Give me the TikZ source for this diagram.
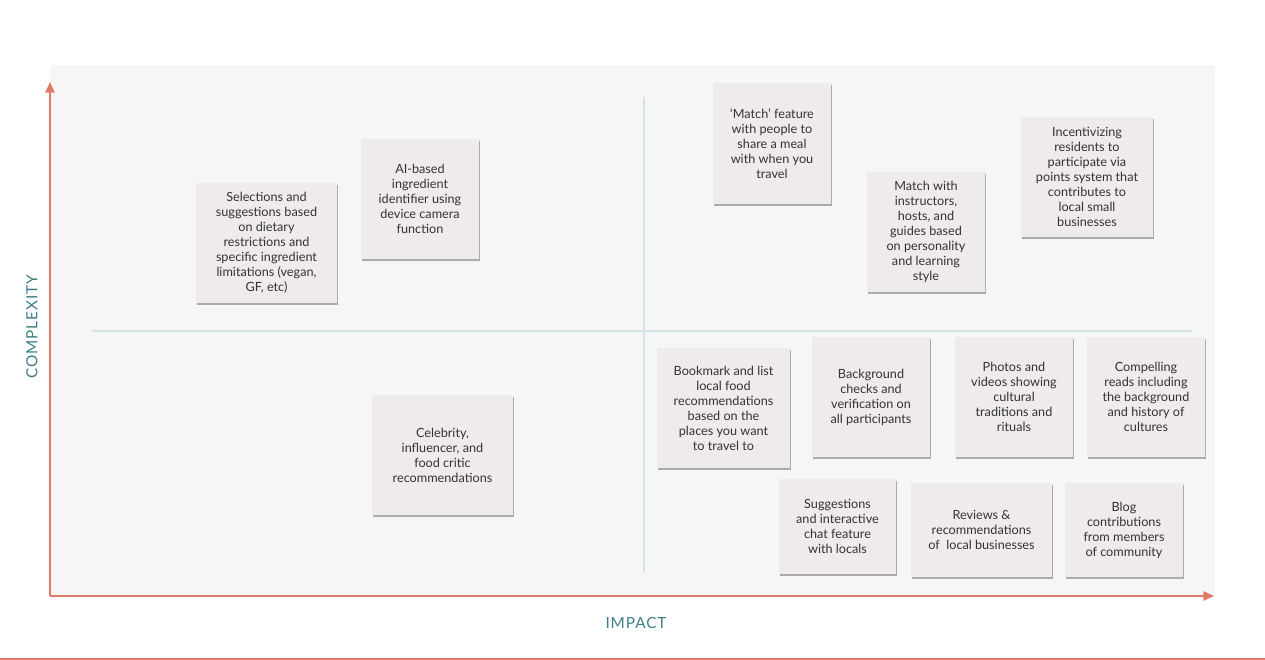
\documentclass[tikz,border=0pt]{standalone}
\usepackage{fontspec}
\setmainfont{Lato}
\newfontfamily\axisfont[LetterSpace=6]{Lato}
\usetikzlibrary{shadows,arrows.meta}

\definecolor{notefill}{HTML}{F0EBEB}
\definecolor{panelgray}{HTML}{F6F6F6}
\definecolor{axisred}{HTML}{E07B67}
\definecolor{labelteal}{HTML}{3D7F86}
\definecolor{crossline}{HTML}{D3E5E6}

\tikzset{
  note/.style={rectangle, fill=notefill, inner sep=0pt, align=center,
    minimum width=88.5pt, minimum height=90pt,
    font=\fontsize{9.5}{11.25}\selectfont\color{black!80},
    drop shadow={shadow xshift=0.7pt, shadow yshift=-1.8pt, fill=black, opacity=0.3}},
  axislabel/.style={font=\axisfont\fontsize{11.5}{13}\selectfont, text=labelteal},
  axisline/.style={draw=axisred, line width=1.2pt, -{Triangle[length=8pt,width=7pt]}}
}

\begin{document}
\begin{tikzpicture}[x=0.75pt,y=-0.75pt]
  \useasboundingbox (0,0) rectangle (1265,660);
  \fill[white] (0,0) rectangle (1265,660);
  \fill[panelgray] (50,65) rectangle (1215,597);
  \draw[axisred, line width=0.8pt] (0,659) -- (1265,659);

  % quadrant lines
  \coordinate (vtop) at (644,97);
  \coordinate (vbot) at (644,572);
  \coordinate (hleft) at (92,331);
  \coordinate (hright) at (1192,331);
  \draw[crossline, line width=1pt] (vtop) -- (vbot);
  \draw[crossline, line width=1pt] (hleft) -- (hright);

  % axes
  \coordinate (origin) at (50,596);
  \coordinate (ytip) at (50,82);
  \coordinate (xtip) at (1214,596);
  \draw[axisline] (origin) -- (ytip);
  \draw[axisline] (origin) -- (xtip);
  \node[axislabel, rotate=90] (complexity) at (32,327) {COMPLEXITY};
  \node[axislabel] (impact) at (636,623) {IMPACT};

  % upper left
  \node[note, minimum width=105.75pt] (select) at (266.5,243)
    {Selections and\\suggestions based\\on dietary\\restrictions and\\specific ingredient\\limitations (vegan,\\GF, etc)};
  \node[note] (aiscan) at (420,199)
    {AI-based\\ingredient\\identifier using\\device camera\\function};

  % upper right
  \node[note, minimum height=90.75pt] (mealmatch) at (772,143.5)
    {‘Match’ feature\\with people to\\share a meal\\with when you\\travel};
  \node[note] (guides) at (926,232)
    {Match with\\instructors,\\hosts, and\\guides based\\on personality\\and learning\\style};
  \node[note, minimum width=99pt] (points) at (1087,177)
    {Incentivizing\\residents to\\participate via\\points system that\\contributes to\\local small\\businesses};

  % lower left
  \node[note, minimum width=105.75pt] (celeb) at (442.5,455)
    {Celebrity,\\influencer, and\\food critic\\recommendations};

  % lower right
  \node[note, minimum width=99.75pt] (bookmark) at (723.5,408)
    {Bookmark and list\\local food\\recommendations\\based on the\\places you want\\to travel to};
  \node[note] (checks) at (871,397)
    {Background\\checks and\\verification on\\all participants};
  \node[note] (photos) at (1014,397)
    {Photos and\\videos showing\\cultural\\traditions and\\rituals};
  \node[note] (reads) at (1146,397)
    {Compelling\\reads including\\the background\\and history of\\cultures};
  \node[note, minimum width=87.75pt, minimum height=71.25pt] (chat) at (837.5,526.5)
    {Suggestions\\and interactive\\chat feature\\with locals};
  \node[note, minimum width=105.75pt, minimum height=70.5pt] (reviews) at (981.5,530)
    {Reviews \&\\recommendations\\of~ local businesses};
  \node[note, minimum height=70.5pt] (blog) at (1124,530)
    {Blog\\contributions\\from members\\of community};
\end{tikzpicture}
\end{document}
